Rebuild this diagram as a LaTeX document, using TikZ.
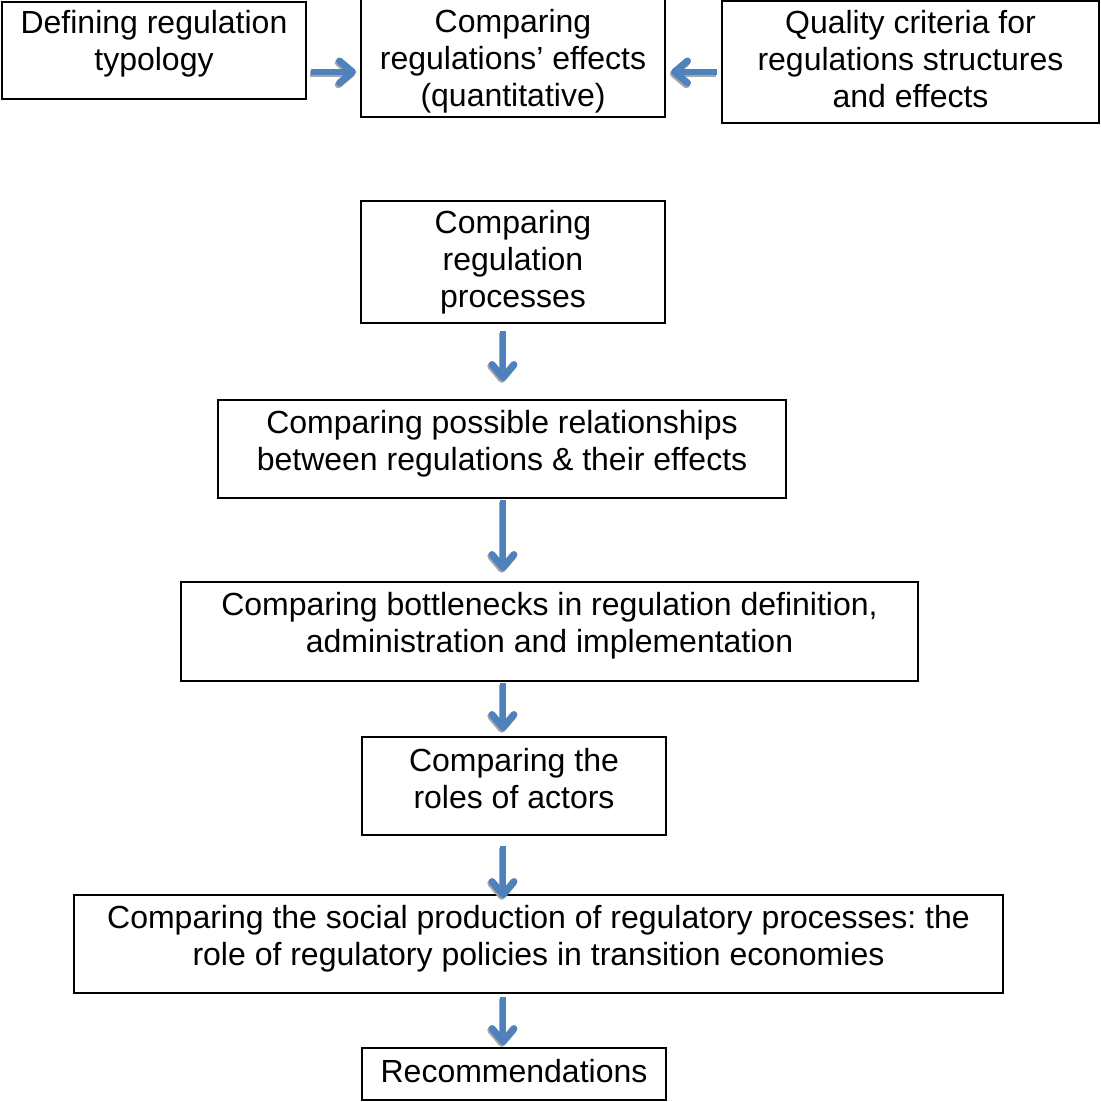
\documentclass[tikz,border=0pt]{standalone}
\usepackage{fontspec}
\setmainfont{Liberation Sans}
\usetikzlibrary{arrows.meta}
\definecolor{arrowblue}{HTML}{4F81BD}
\frenchspacing
\begin{document}
\begin{tikzpicture}[x=1pt,y=-1pt,
  box/.style={draw=black, line width=2pt, inner sep=0pt, fill=none},
  txt/.style={inner sep=0pt, align=center, anchor=north, font=\fontsize{32}{37}\selectfont\frenchspacing},
  headtip/.style={-{Straight Barb[length=13pt,width=22pt,line width=7pt,round]}},
  flow/.style={draw=arrowblue, line width=6pt, headtip},
  flowshadow/.style={draw=black!35, line width=6pt, headtip, transform canvas={xshift=-1.2pt,yshift=-1.8pt}}
]
\useasboundingbox (0,0) rectangle (1100,1102);
% boxes
\node[box, minimum width=304, minimum height=97] (b1) at (154,50.5) {};
\node[box, minimum width=304, minimum height=120] (b2) at (513,57) {};
\node[box, minimum width=377, minimum height=122] (b3) at (910.5,62.5) {};
\node[box, minimum width=304, minimum height=122] (b4) at (513,262) {};
\node[box, minimum width=568, minimum height=98] (b5) at (502,449) {};
\node[box, minimum width=737, minimum height=99] (b6) at (549.5,631.5) {};
\node[box, minimum width=304, minimum height=98] (b7) at (514,786) {};
\node[box, minimum width=929, minimum height=98] (b8) at (538.5,944) {};
\node[box, minimum width=304, minimum height=52] (b9) at (514,1074) {};
% texts
\node[txt] (t1) at (154,7.1) {\strut Defining regulation\\\strut typology};
\node[txt] (t2) at (513,6.1) {\strut Comparing\\\strut regulations’ effects\\\strut (quantitative)};
\node[txt] (t3) at (910.5,7.1) {\strut Quality criteria for\\\strut regulations structures\\\strut and effects};
\node[txt] (t4) at (513,207.1) {\strut Comparing\\\strut regulation\\\strut processes};
\node[txt] (t5) at (502,407.1) {\strut Comparing possible relationships\\\strut between regulations \& their effects};
\node[txt] (t6) at (549.5,589.1) {\strut Comparing bottlenecks in regulation definition,\\\strut administration and implementation};
\node[txt] (t7) at (514,745.1) {\strut Comparing the\\\strut roles of actors};
\node[txt] (t8) at (538.5,902.1) {\strut Comparing the social production of regulatory processes: the\\\strut role of regulatory policies in transition economies};
\node[txt] (t9) at (514,1056.1) {\strut Recommendations};
% arrow shadows
\draw[flowshadow] ([xshift=4pt,yshift=-21.5pt]b1.east) -- ([xshift=-4pt,yshift=-15pt]b2.west);
\draw[flowshadow] ([xshift=-4pt,yshift=-9.5pt]b3.west) -- ([xshift=5pt,yshift=-15pt]b2.east);
\draw[flowshadow] ([xshift=-10pt,yshift=-7pt]b4.south) -- ([xshift=1pt,yshift=18pt]b5.north);
\draw[flowshadow] ([xshift=1pt,yshift=-1pt]b5.south) -- ([xshift=-46.5pt,yshift=10pt]b6.north);
\draw[flowshadow] ([xshift=-46.5pt,yshift=-1pt]b6.south) -- ([xshift=-11pt,yshift=5pt]b7.north);
\draw[flowshadow] ([xshift=-11pt,yshift=-10pt]b7.south) -- ([xshift=-35.5pt,yshift=-4pt]b8.north);
\draw[flowshadow] ([xshift=-35.5pt,yshift=-3pt]b8.south) -- ([xshift=-11pt,yshift=2pt]b9.north);
% arrows
\draw[flow] ([xshift=4pt,yshift=-21.5pt]b1.east) -- ([xshift=-4pt,yshift=-15pt]b2.west);
\draw[flow] ([xshift=-4pt,yshift=-9.5pt]b3.west) -- ([xshift=5pt,yshift=-15pt]b2.east);
\draw[flow] ([xshift=-10pt,yshift=-7pt]b4.south) -- ([xshift=1pt,yshift=18pt]b5.north);
\draw[flow] ([xshift=1pt,yshift=-1pt]b5.south) -- ([xshift=-46.5pt,yshift=10pt]b6.north);
\draw[flow] ([xshift=-46.5pt,yshift=-1pt]b6.south) -- ([xshift=-11pt,yshift=5pt]b7.north);
\draw[flow] ([xshift=-11pt,yshift=-10pt]b7.south) -- ([xshift=-35.5pt,yshift=-4pt]b8.north);
\draw[flow] ([xshift=-35.5pt,yshift=-3pt]b8.south) -- ([xshift=-11pt,yshift=2pt]b9.north);
\end{tikzpicture}
\end{document}
